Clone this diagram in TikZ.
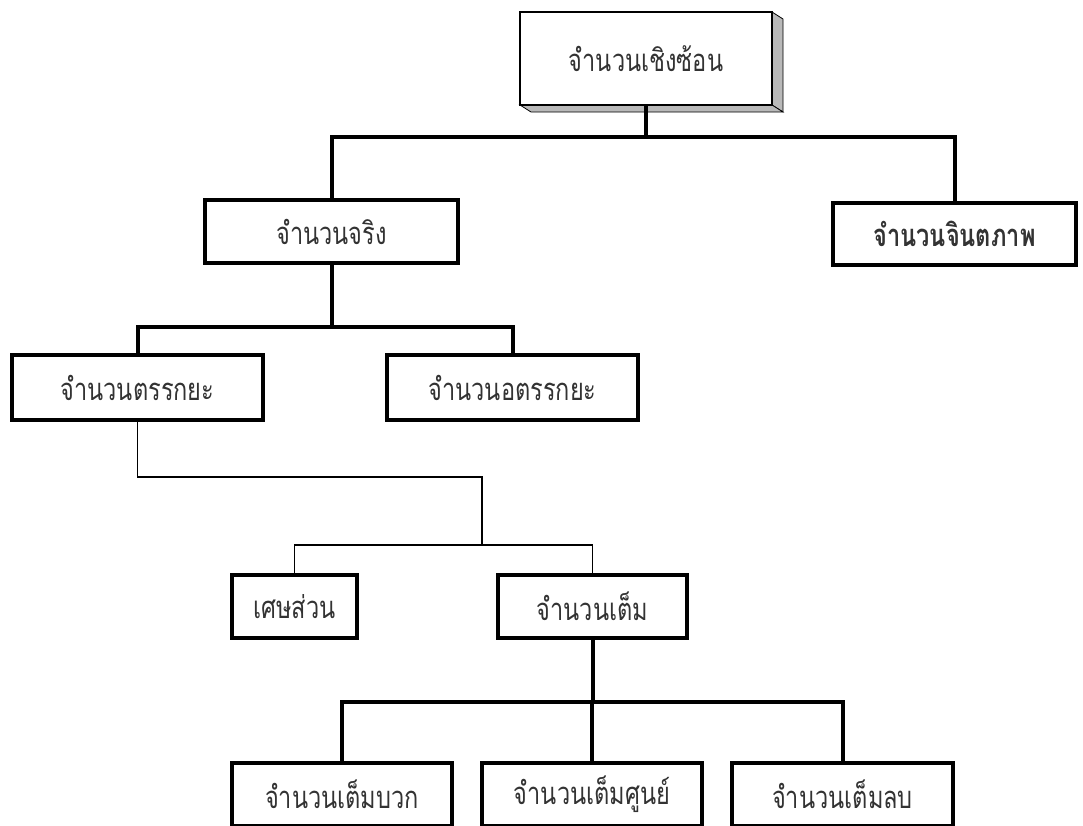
\documentclass[tikz,border=0pt]{standalone}
\usepackage{fontspec}
\newfontfamily\thai[Script=Thai, FakeStretch=0.76]{Loma}
\begin{document}
\begin{tikzpicture}[x=1pt,y=-1pt,
  tbox/.style={draw, line width=4pt, inner sep=0pt, fill=white, text=black!80, font=\thai\fontsize{31}{34}\selectfont},
  bus/.style={line width=4pt},
  thinbus/.style={line width=1.5pt}]
\useasboundingbox (0,0) rectangle (1083,825);
\clip (0,0) rectangle (1083,825);
% 3D top box
\fill[gray!55, draw=black, line width=0.8pt] (772,12) -- (783,19) -- (783,112) -- (772,105) -- cycle;
\fill[gray!55, draw=black, line width=0.8pt] (520,105) -- (531,112) -- (783,112) -- (772,105) -- cycle;
\node[tbox, line width=1.5pt, minimum width=252pt, minimum height=93pt] (top) at (646,58.5) {จำนวนเชิงซ้อน};
\node[tbox, minimum width=253pt, minimum height=63pt] (real) at (331.5,231.5) {จำนวนจริง};
\node[tbox, minimum width=243pt, minimum height=62pt, font=\thai\bfseries\fontsize{31}{34}\selectfont] (imag) at (954.5,234) {จำนวนจินตภาพ};
\node[tbox, minimum width=251pt, minimum height=65pt] (rat) at (137.5,387.5) {จำนวนตรรกยะ};
\node[tbox, minimum width=251pt, minimum height=65pt] (irr) at (512.5,387.5) {จำนวนอตรรกยะ};
\node[tbox, minimum width=125pt, minimum height=63pt] (frac) at (294.5,606.5) {เศษส่วน};
\node[tbox, minimum width=189pt, minimum height=63pt] (int) at (592.5,606.5) {จำนวนเต็ม};
\node[tbox, minimum width=220pt, minimum height=63pt] (pos) at (342,794.5) {จำนวนเต็มบวก};
\node[tbox, minimum width=220pt, minimum height=63pt] (zero) at (592,794.5) {จำนวนเต็มศูนย์};
\node[tbox, minimum width=221pt, minimum height=63pt] (neg) at (842.5,794.5) {จำนวนเต็มลบ};
% connectors
\coordinate (j1) at (top.south |- 0,137);
\draw[bus] (top.south) -- (j1);
\draw[bus] (j1) -| (real.north);
\draw[bus] (j1) -| (imag.north);
\coordinate (j2) at (real.south |- 0,327);
\draw[bus] (real.south) -- (j2);
\draw[bus] (j2) -| (rat.north);
\draw[bus] (j2) -| (irr.north);
\coordinate (j3) at (482,477);
\coordinate (j4) at (482,545);
\draw[thinbus] (rat.south) |- (j3) -- (j4);
\draw[thinbus] (j4) -| (frac.north);
\draw[thinbus] (j4) -| (int.north);
\coordinate (j5) at (int.south |- 0,702);
\draw[bus] (int.south) -- (j5);
\draw[bus] (j5) -| (pos.north);
\draw[bus] (j5) -| (zero.north);
\draw[bus] (j5) -| (neg.north);
\end{tikzpicture}
\end{document}
